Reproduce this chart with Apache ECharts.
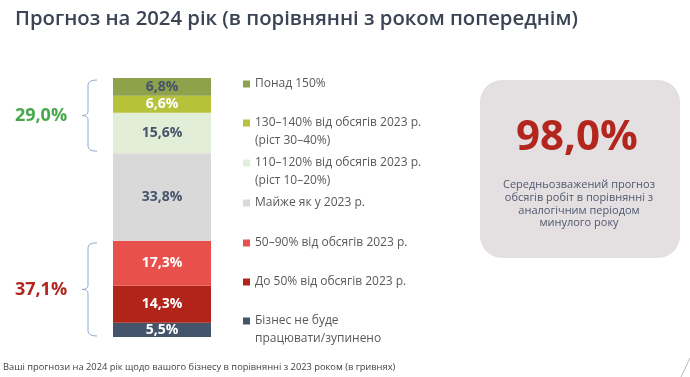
<!DOCTYPE html>
<html>
<head>
<meta charset="utf-8">
<script src="https://cdn.jsdelivr.net/npm/echarts@6/dist/echarts.min.js"></script>
<style>
  html, body { margin: 0; padding: 0; background: #fff; }
  #chart { width: 690px; height: 377px; }
</style>
</head>
<body>
<div id="chart"></div>
<script>
// data, top of the bar first
const categories = [
  'Понад 150%',
  '130–140% від обсягів 2023 р.',
  '110–120% від обсягів 2023 р.',
  'Майже як у 2023 р.',
  '50–90% від обсягів 2023 р.',
  'До 50% від обсягів 2023 р.',
  'Бізнес не буде'
]
const secondLines = ['', '(ріст 30–40%)', '(ріст 10–20%)', '', '', '', 'працювати/зупинено']
const values = [6.8, 6.6, 15.6, 33.8, 17.3, 14.3, 5.5]
const growthItems = [0, 1, 2]
const declineItems = [4, 5, 6]
const averageForecast = 98.0
const titleText = 'Прогноз на 2024 рік (в порівнянні з роком попереднім)'
const boxText = 'Середньозважений прогноз\nобсягів робіт в порівнянні з\nаналогічним періодом\nминулого року'
const footText = 'Ваші прогнози на 2024 рік щодо вашого бізнесу в порівнянні з 2023 роком (в гривнях)'

// styles
const colors = ['#8EA14B', '#B7C23B', '#E3EED8', '#D9D9D9', '#E8514B', '#B1241A', '#44546A']
const labelColors = ['#44546A', '#fff', '#44546A', '#44546A', '#fff', '#fff', '#fff']
const legendY = [84, 123, 163, 203, 243, 282, 321]
const FONT = '"Open Sans", "Noto Sans", sans-serif'

const fmt = v => v.toFixed(1).replace('.', ',') + '%'
const total = values.reduce((a, b) => a + b, 0)

const chart = echarts.init(document.getElementById('chart'))

// stack from bottom to top
const order = values.map((v, i) => i).reverse()
const series = order.map(i => ({
  name: categories[i],
  type: 'bar',
  stack: 'all',
  barWidth: 98,
  data: [values[i]],
  itemStyle: { color: colors[i] },
  label: {
    show: true,
    position: 'inside',
    formatter: p => fmt(p.value),
    color: labelColors[i],
    fontFamily: FONT,
    fontWeight: 'bold',
    fontSize: 14
  },
  emphasis: { disabled: true }
}))

const legends = categories.map((name, i) => ({
  data: [name],
  left: 243,
  top: legendY[i] - 7,
  padding: 0,
  icon: 'rect',
  itemWidth: 7,
  itemHeight: 7,
  selectedMode: false,
  textStyle: { color: '#595959', fontSize: 12, fontFamily: FONT, lineHeight: 14 }
}))

chart.setOption({
  animation: false,
  title: {
    text: titleText,
    left: 10,
    top: 4,
    textStyle: { color: '#3A4455', fontSize: 20.3, fontWeight: 600, fontFamily: FONT }
  },
  grid: { left: 113, top: 78, width: 98, height: 259 },
  xAxis: { type: 'category', data: ['2024'], show: false },
  yAxis: { type: 'value', min: 0, max: total, show: false },
  legend: legends,
  series: series
})

// brackets, group totals, box and second legend lines
const yPx = v => chart.convertToPixel({ yAxisIndex: 0 }, v)
const sum = idx => idx.reduce((a, i) => a + values[i], 0)
const braceStyle = { fill: null, stroke: '#8FAACB', lineWidth: 1 }

const brace = (y1, y2) => {
  const m = (y1 + y2) / 2
  return [
    { type: 'bezierCurve', shape: { x1: 97, y1: y1, cpx1: 88, cpy1: y1, x2: 88, y2: y1 + 5 }, style: braceStyle },
    { type: 'line', shape: { x1: 88, y1: y1 + 5, x2: 88, y2: m - 4 }, style: braceStyle },
    { type: 'bezierCurve', shape: { x1: 88, y1: m - 4, cpx1: 88, cpy1: m, x2: 82, y2: m }, style: braceStyle },
    { type: 'bezierCurve', shape: { x1: 82, y1: m, cpx1: 88, cpy1: m, x2: 88, y2: m + 4 }, style: braceStyle },
    { type: 'line', shape: { x1: 88, y1: m + 4, x2: 88, y2: y2 - 5 }, style: braceStyle },
    { type: 'bezierCurve', shape: { x1: 88, y1: y2 - 5, cpx1: 88, cpy1: y2, x2: 97, y2: y2 }, style: braceStyle }
  ]
}

const growthTop = yPx(total) + 2
const growthBottom = yPx(total - sum(growthItems)) - 2
const declineTop = yPx(sum(declineItems)) + 2
const declineBottom = yPx(0) - 1

const graphic = [
  ...brace(growthTop, growthBottom),
  ...brace(declineTop, declineBottom),
  { type: 'text', x: 41, y: (growthTop + growthBottom) / 2, style: { text: fmt(sum(growthItems)), fill: '#47A84B', font: `bold 18px ${FONT}`, align: 'center', verticalAlign: 'middle' } },
  { type: 'text', x: 41, y: (declineTop + declineBottom) / 2, style: { text: fmt(sum(declineItems)), fill: '#B3261E', font: `bold 18px ${FONT}`, align: 'center', verticalAlign: 'middle' } },
  { type: 'rect', shape: { x: 480, y: 80, width: 200, height: 178, r: 22 }, style: { fill: '#E4DFE0' } },
  { type: 'text', x: 577, y: 138, style: { text: fmt(averageForecast), fill: '#B3261E', font: `bold 42px ${FONT}`, align: 'center', verticalAlign: 'middle' } },
  { type: 'text', x: 579, y: 204, style: { text: boxText, fill: '#4F596E', font: `11px ${FONT}`, lineHeight: 12.8, align: 'center', verticalAlign: 'middle' } },
  { type: 'text', x: 3, y: 367, style: { text: footText, fill: '#404040', font: `9.3px ${FONT}`, verticalAlign: 'middle' } },
  { type: 'line', shape: { x1: 681, y1: 377, x2: 690, y2: 358 }, style: { stroke: '#A6A6A6', lineWidth: 0.8 } }
]
secondLines.forEach((t, i) => {
  if (!t) return
  graphic.push({ type: 'text', x: 255, y: legendY[i] + 18, style: { text: t, fill: '#595959', font: `12px ${FONT}`, verticalAlign: 'middle' } })
})

chart.setOption({ graphic: graphic })
</script>
</body>
</html>
